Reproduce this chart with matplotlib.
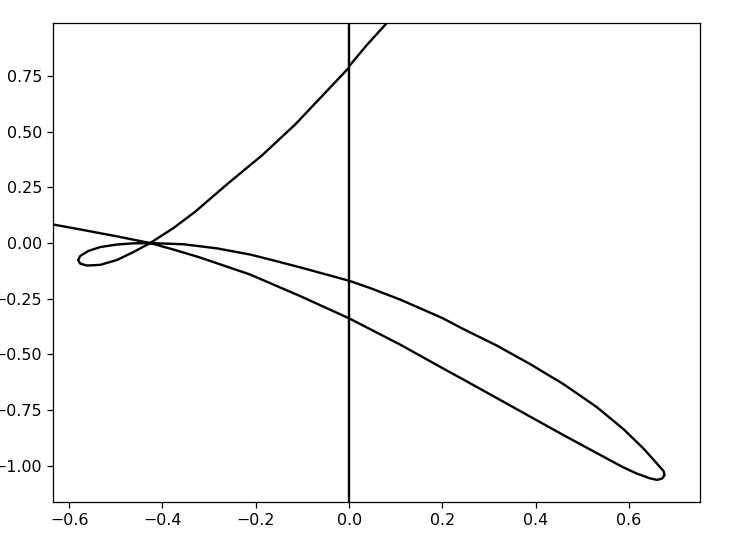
import matplotlib
matplotlib.use("Agg")
import matplotlib.pyplot as plt

# Main curve, traced in order
curve_x = [-0.6336, -0.5693, -0.4978, -0.4264, -0.3728, -0.3193, -0.2121, -0.1050, 0.0000,
           0.1093, 0.1999, 0.2449, 0.3165, 0.3878, 0.4592, 0.5307, 0.5878, 0.6165, 0.6450,
           0.6600, 0.6707, 0.6760, 0.6739, 0.6593, 0.6306, 0.5878, 0.5307, 0.4592, 0.3878,
           0.3165, 0.2449, 0.1999, 0.1093, 0.0450, 0.0000, -0.1050, -0.1693, -0.2121, -0.2835,
           -0.3551, -0.4264, -0.4628, -0.4978, -0.5335, -0.5593, -0.5764, -0.5807, -0.5764,
           -0.5620, -0.5335, -0.4978, -0.4622, -0.4264, -0.3765, -0.3300, -0.2586, -0.1871,
           -0.1157, -0.0579, -0.0032]
curve_y = [0.0831, 0.0584, 0.0301, 0.0000, -0.0314, -0.0651, -0.1414, -0.2380, -0.3381,
           -0.4558, -0.5613, -0.6129, -0.6960, -0.7791, -0.8621, -0.9430, -1.0072, -1.0350, -1.0566,
           -1.0633, -1.0575, -1.0418, -1.0238, -0.9892, -0.9219, -0.8352, -0.7364, -0.6331, -0.5433,
           -0.4603, -0.3862, -0.3368, -0.2537, -0.2021, -0.1693, -0.1091, -0.0741, -0.0516, -0.0238,
           -0.0054, 0.0000, -0.0013, -0.0067, -0.0180, -0.0359, -0.0584, -0.0763, -0.0921,
           -0.1010, -0.0979, -0.0763, -0.0404, 0.0000, 0.0674, 0.1405, 0.2694, 0.3929,
           0.5321, 0.6601, 0.7813]

# Short piece above the gap at x = 0
top_x = [0.0021, 0.0379, 0.0808]
top_y = [0.7993, 0.8891, 0.9879]

# Vertical line at x = 0
vline_x = [0.0, 0.0]
vline_y = [-1.164, 0.988]

x_ticks = [-0.6, -0.4, -0.2, 0.0, 0.2, 0.4, 0.6]
y_ticks = [-1.00, -0.75, -0.50, -0.25, 0.00, 0.25, 0.50, 0.75]

fig = plt.figure(figsize=(730 / 114, 547 / 114), dpi=114)
ax = fig.add_axes([53.3 / 730, 1 - 502.3 / 547, 646.7 / 730, 479.3 / 547])

ax.plot(vline_x, vline_y, color="black", lw=1.5)
ax.plot(curve_x, curve_y, color="black", lw=1.5)
ax.plot(top_x, top_y, color="black", lw=1.5)

ax.set_xlim(-0.634, 0.752)
ax.set_ylim(-1.164, 0.988)
ax.set_xticks(x_ticks)
ax.set_yticks(y_ticks)

fig.savefig("out.png", dpi=114)
